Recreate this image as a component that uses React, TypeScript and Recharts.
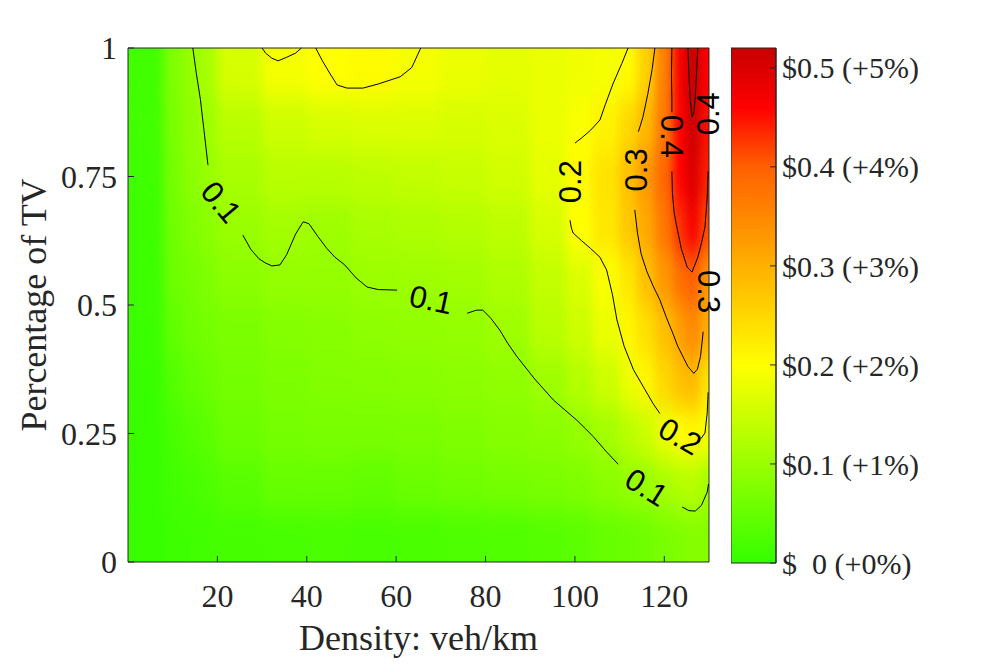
import { ComposedChart, BarChart, Bar, Cell, Scatter, XAxis, YAxis } from "recharts"

// density bins (veh/km) of the heat map, left edge to right edge
const densityEdges = [0, 8, 12, 16, 20, 30, 40, 50, 60, 70, 80, 90, 98, 104, 110, 114, 118, 122, 125, 128, 130]
// share-of-TV bins, bottom to top (value = bin centre)
const tvRows = ["0.05", "0.15", "0.25", "0.35", "0.45", "0.55", "0.65", "0.75", "0.85", "0.95"]

// extra cost ($), one row per tvRows entry, one value per density bin
const heatValues = [
  [0.005, 0.01, 0.012, 0.015, 0.018, 0.02, 0.022, 0.02, 0.022, 0.025, 0.028, 0.033, 0.04, 0.05, 0.055, 0.06, 0.07, 0.075, 0.08, 0.08],
  [0.005, 0.015, 0.02, 0.025, 0.035, 0.05, 0.05, 0.045, 0.055, 0.06, 0.065, 0.07, 0.075, 0.085, 0.095, 0.1, 0.115, 0.125, 0.13, 0.11],
  [0.005, 0.02, 0.03, 0.04, 0.055, 0.065, 0.068, 0.068, 0.07, 0.075, 0.08, 0.085, 0.095, 0.11, 0.13, 0.15, 0.18, 0.2, 0.21, 0.19],
  [0.005, 0.03, 0.045, 0.055, 0.065, 0.072, 0.076, 0.078, 0.082, 0.086, 0.09, 0.105, 0.125, 0.15, 0.18, 0.21, 0.25, 0.28, 0.29, 0.23],
  [0.008, 0.045, 0.058, 0.065, 0.07, 0.078, 0.082, 0.088, 0.092, 0.095, 0.105, 0.13, 0.15, 0.18, 0.21, 0.24, 0.28, 0.32, 0.35, 0.3],
  [0.01, 0.055, 0.065, 0.075, 0.085, 0.095, 0.095, 0.102, 0.105, 0.108, 0.12, 0.14, 0.165, 0.195, 0.23, 0.28, 0.33, 0.38, 0.4, 0.33],
  [0.01, 0.06, 0.075, 0.085, 0.1, 0.11, 0.105, 0.115, 0.12, 0.125, 0.135, 0.16, 0.2, 0.23, 0.27, 0.31, 0.37, 0.43, 0.47, 0.41],
  [0.012, 0.065, 0.085, 0.098, 0.115, 0.13, 0.13, 0.135, 0.14, 0.145, 0.155, 0.175, 0.205, 0.235, 0.28, 0.33, 0.39, 0.46, 0.5, 0.44],
  [0.015, 0.07, 0.09, 0.105, 0.13, 0.15, 0.16, 0.165, 0.165, 0.16, 0.165, 0.18, 0.195, 0.215, 0.25, 0.29, 0.37, 0.46, 0.52, 0.45],
  [0.015, 0.075, 0.095, 0.115, 0.16, 0.19, 0.2, 0.205, 0.19, 0.18, 0.175, 0.18, 0.185, 0.19, 0.205, 0.26, 0.36, 0.47, 0.54, 0.46],
]

const densityTicks = [20, 40, 60, 80, 100, 120]
const tvTicks = [0, 0.25, 0.5, 0.75, 1]
const costTicks = [0, 0.1, 0.2, 0.3, 0.4, 0.5]
const colorbarData = [{ k: "cost", top: 0.52 }]

// contour lines, as (density, share of TV) points
const c01a = [{ d: 14.5, p: 1 }, { d: 15.3, p: 0.95 }, { d: 16.2, p: 0.9 }, { d: 17.0, p: 0.84 }, { d: 17.9, p: 0.772 }]
const c01b = [
  { d: 25.7, p: 0.636 }, { d: 27.5, p: 0.608 }, { d: 29.3, p: 0.59 }, { d: 30.7, p: 0.582 }, { d: 32.2, p: 0.576 },
  { d: 34.0, p: 0.578 }, { d: 35.5, p: 0.598 }, { d: 37.5, p: 0.638 }, { d: 39.2, p: 0.662 }, { d: 40.5, p: 0.658 },
  { d: 42.5, p: 0.633 }, { d: 44.5, p: 0.61 }, { d: 46.3, p: 0.593 }, { d: 48.5, p: 0.578 }, { d: 51, p: 0.553 },
  { d: 53.5, p: 0.535 }, { d: 56, p: 0.53 }, { d: 60.2, p: 0.529 },
]
const c01c = [
  { d: 75.9, p: 0.484 }, { d: 78, p: 0.49 }, { d: 79.4, p: 0.49 }, { d: 81.2, p: 0.474 }, { d: 83.2, p: 0.451 },
  { d: 85, p: 0.425 }, { d: 87, p: 0.4 }, { d: 91, p: 0.356 }, { d: 95.2, p: 0.315 }, { d: 98, p: 0.294 },
  { d: 100.4, p: 0.276 }, { d: 102.4, p: 0.259 }, { d: 104.1, p: 0.244 }, { d: 107, p: 0.215 }, { d: 109.7, p: 0.19 },
]
const c01d = [{ d: 124.0, p: 0.107 }, { d: 125.5, p: 0.1 }, { d: 126.9, p: 0.099 }, { d: 128.3, p: 0.11 }, { d: 129.6, p: 0.136 }, { d: 129.9, p: 0.152 }]
const c02small = [{ d: 30.0, p: 1 }, { d: 30.8, p: 0.99 }, { d: 32.2, p: 0.98 }, { d: 33.6, p: 0.975 }, { d: 35.5, p: 0.982 }, { d: 37.5, p: 0.99 }, { d: 38.8, p: 1 }]
const c02top = [
  { d: 42.0, p: 1 }, { d: 43.5, p: 0.975 }, { d: 45.2, p: 0.95 }, { d: 46.8, p: 0.928 }, { d: 49, p: 0.922 },
  { d: 52.6, p: 0.922 }, { d: 56, p: 0.93 }, { d: 60.9, p: 0.944 }, { d: 63.5, p: 0.962 }, { d: 65.5, p: 1 },
]
const c02a = [
  { d: 111.9, p: 1 }, { d: 110.5, p: 0.97 }, { d: 108.5, p: 0.93 }, { d: 106.8, p: 0.89 }, { d: 105.6, p: 0.86 },
  { d: 103.5, p: 0.84 }, { d: 101.5, p: 0.825 }, { d: 100, p: 0.815 },
]
const c02b = [
  { d: 98.9, p: 0.665 }, { d: 99.2, p: 0.65 }, { d: 99.6, p: 0.64 }, { d: 101.5, p: 0.625 }, { d: 103.5, p: 0.61 },
  { d: 105.6, p: 0.593 }, { d: 107.1, p: 0.568 }, { d: 108.4, p: 0.52 }, { d: 109.4, p: 0.471 }, { d: 111, p: 0.42 },
  { d: 113.1, p: 0.374 }, { d: 115.5, p: 0.338 }, { d: 117.5, p: 0.308 }, { d: 119, p: 0.289 },
]
const c02c = [{ d: 128.2, p: 0.24 }, { d: 129.1, p: 0.251 }, { d: 129.6, p: 0.29 }, { d: 129.8, p: 0.33 }]
const c03a = [{ d: 117.9, p: 1 }, { d: 117.3, p: 0.96 }, { d: 116.3, p: 0.91 }, { d: 115.2, p: 0.865 }, { d: 114.2, p: 0.837 }]
const c03b = [
  { d: 113.4, p: 0.685 }, { d: 114, p: 0.64 }, { d: 114.8, p: 0.6 }, { d: 116.1, p: 0.565 }, { d: 117.5, p: 0.537 },
  { d: 119, p: 0.51 }, { d: 120.5, p: 0.475 }, { d: 122, p: 0.443 }, { d: 123, p: 0.42 }, { d: 124.2, p: 0.399 },
  { d: 125.3, p: 0.38 }, { d: 126.6, p: 0.367 }, { d: 127.4, p: 0.375 }, { d: 128.1, p: 0.4 }, { d: 128.7, p: 0.448 },
]
const c04a = [{ d: 121.7, p: 1 }, { d: 121.6, p: 0.95 }, { d: 121.7, p: 0.9 }, { d: 121.7, p: 0.875 }]
const c04b = [
  { d: 121.7, p: 0.76 }, { d: 121.8, p: 0.72 }, { d: 122.2, p: 0.68 }, { d: 122.8, p: 0.652 }, { d: 123.8, p: 0.61 },
  { d: 125.1, p: 0.574 }, { d: 126.2, p: 0.564 }, { d: 127.5, p: 0.593 }, { d: 128.3, p: 0.62 }, { d: 129.1, p: 0.652 },
  { d: 129.6, p: 0.71 }, { d: 129.8, p: 0.76 },
]
const c05 = [
  { d: 125.3, p: 1 }, { d: 125.5, p: 0.95 }, { d: 125.8, p: 0.9 }, { d: 126.2, p: 0.866 }, { d: 126.6, p: 0.875 },
  { d: 126.9, p: 0.9 }, { d: 127.2, p: 0.95 }, { d: 127.5, p: 1 },
]
const contourLines = [c01a, c01b, c01c, c01d, c02small, c02top, c02a, c02b, c02c, c03a, c03b, c04a, c04b, c05]

const contourLabels = [
  { text: "0.1", d: 20.8, p: 0.7, angle: 50 },
  { text: "0.1", d: 67.8, p: 0.51, angle: 12 },
  { text: "0.1", d: 116.0, p: 0.145, angle: 32 },
  { text: "0.2", d: 99.0, p: 0.74, angle: -90 },
  { text: "0.2", d: 123.5, p: 0.244, angle: 30 },
  { text: "0.3", d: 113.8, p: 0.763, angle: -90 },
  { text: "0.3", d: 129.8, p: 0.526, angle: 90 },
  { text: "0.4", d: 121.6, p: 0.828, angle: 90 },
  { text: "0.4", d: 129.8, p: 0.872, angle: -90 },
]

const W = 983
const H = 668
const AXIS = "#262626"
const SERIF = "'Liberation Serif', 'Times New Roman', serif"
const SANS = "'Liberation Sans', Arial, sans-serif"
const MARGIN = { top: 48, right: 274, bottom: 106, left: 128 }

// green -> yellow -> red colormap
const colorStops: [number, number[]][] = [
  [0, [51, 255, 0]],
  [0.2, [255, 255, 0]],
  [0.3, [255, 176, 0]],
  [0.4, [255, 96, 0]],
  [0.46, [255, 0, 0]],
  [0.52, [200, 0, 0]],
]

function heatColor(v: number) {
  for (let i = 1; i < colorStops.length; i++) {
    const [v0, c0] = colorStops[i - 1]
    const [v1, c1] = colorStops[i]
    if (v <= v1 || i === colorStops.length - 1) {
      const t = Math.max(0, Math.min(1, (v - v0) / (v1 - v0)))
      return `rgb(${c0.map((c, k) => Math.round(c + (c1[k] - c) * t)).join(",")})`
    }
  }
  return "#fff"
}

const columnKeys = densityEdges.slice(1).map((_, j) => `c${j}`)
// top row first: the category axis of a vertical layout runs top to bottom
const rowOrder = tvRows.map((_, i) => i).reverse()
const heatTable = rowOrder.map((i) => {
  const o: Record<string, number | string> = { row: tvRows[i] }
  columnKeys.forEach((key, j) => {
    o[key] = densityEdges[j + 1] - densityEdges[j]
  })
  return o
})

const tickStyle = { fill: AXIS, fontSize: 32, fontFamily: SERIF }
const barTickStyle = { fill: AXIS, fontSize: 30, fontFamily: SERIF }

const noDot = () => <g />

function ContourText(props: any) {
  const { cx, cy, payload } = props
  return (
    <text
      x={cx}
      y={cy}
      transform={`rotate(${payload.angle} ${cx} ${cy})`}
      textAnchor="middle"
      dominantBaseline="central"
      fontSize={31}
      fontFamily={SANS}
      fill="#000"
    >
      {payload.text}
    </text>
  )
}

function xTitle(props: any) {
  const { x, y, width } = props.viewBox
  return (
    <text x={x + width / 2} y={y + 88} textAnchor="middle" fill={AXIS} fontSize={36} fontFamily={SERIF}>
      Density: veh/km
    </text>
  )
}

function yTitle(props: any) {
  const { x, y, height } = props.viewBox
  const cx = x + 46
  const cy = y + height / 2
  return (
    <text x={cx} y={cy} transform={`rotate(-90 ${cx} ${cy})`} textAnchor="middle" fill={AXIS} fontSize={36} fontFamily={SERIF}>
      Percentage of TV
    </text>
  )
}

function costLabel(v: number) {
  if (v === 0) return "$\u00a0\u00a00 (+0%)"
  return `$${v.toFixed(1)} (+${Math.round(v * 10)}%)`
}

export default function App() {
  return (
    <div style={{ position: "relative", width: W, height: H, background: "#fff", overflow: "hidden" }}>
      <style>{"body{margin:0}"}</style>
      <svg width={0} height={0} style={{ position: "absolute" }}>
        <defs>
          <filter id="heatSmooth" x="0" y="0" width="1" height="1" colorInterpolationFilters="sRGB">
            <feGaussianBlur stdDeviation="5 14" />
            <feComponentTransfer>
              <feFuncA type="linear" slope="0" intercept="1" />
            </feComponentTransfer>
          </filter>
          <linearGradient id="cbGrad" x1="0" y1="1" x2="0" y2="0">
            {colorStops.map(([v, c]) => (
              <stop key={v} offset={v / 0.52} stopColor={`rgb(${c.join(",")})`} />
            ))}
          </linearGradient>
        </defs>
      </svg>

      {/* heat map, smoothed and clipped to the plot area */}
      <div
        style={{
          position: "absolute",
          left: 0,
          top: 0,
          filter: "url(#heatSmooth)",
          clipPath: `inset(${MARGIN.top}px ${MARGIN.right}px ${MARGIN.bottom}px ${MARGIN.left}px)`,
        }}
      >
        <ComposedChart width={W} height={H} data={heatTable} layout="vertical" margin={MARGIN} barCategoryGap={0} barGap={0}>
          <XAxis type="number" domain={[0, 130]} hide />
          <YAxis type="category" dataKey="row" hide />
          {columnKeys.map((key, j) => (
            <Bar key={key} dataKey={key} stackId="heat" isAnimationActive={false}>
              {rowOrder.map((i) => (
                <Cell key={i} fill={heatColor(heatValues[i][j])} />
              ))}
            </Bar>
          ))}
        </ComposedChart>
      </div>

      {/* axes, contour lines and labels */}
      <div style={{ position: "absolute", left: 0, top: 0 }}>
        <ComposedChart width={W} height={H} margin={{ top: 47, right: 273, bottom: 0, left: 0 }}>
          <XAxis
            type="number"
            dataKey="d"
            domain={[0, 130]}
            ticks={densityTicks}
            height={106}
            tickSize={-6}
            tickMargin={28}
            axisLine={{ stroke: AXIS }}
            tickLine={{ stroke: AXIS }}
            tick={tickStyle}
            label={xTitle}
          />
          <XAxis xAxisId="top" orientation="top" type="number" domain={[0, 130]} ticks={densityTicks} height={1} tickSize={-6} tick={false} axisLine={{ stroke: AXIS }} tickLine={{ stroke: AXIS }} />
          <YAxis
            type="number"
            dataKey="p"
            domain={[0, 1]}
            ticks={tvTicks}
            width={128}
            tickSize={-6}
            tickMargin={17}
            axisLine={{ stroke: AXIS }}
            tickLine={{ stroke: AXIS }}
            tick={tickStyle}
            label={yTitle}
          />
          <YAxis yAxisId="right" orientation="right" type="number" domain={[0, 1]} ticks={tvTicks} width={1} tickSize={-6} tick={false} axisLine={{ stroke: AXIS }} tickLine={{ stroke: AXIS }} />
          {contourLines.map((pts, i) => (
            <Scatter key={i} data={pts} fill="#000" line={{ stroke: "#000", strokeWidth: 1 }} shape={noDot} isAnimationActive={false} />
          ))}
          <Scatter data={contourLabels} fill="#000" shape={ContourText} isAnimationActive={false} />
        </ComposedChart>
      </div>

      {/* colour bar */}
      <div style={{ position: "absolute", left: 731, top: 0 }}>
        <BarChart width={252} height={H} data={colorbarData} margin={{ top: 48, right: 0, bottom: 105, left: 0 }} barCategoryGap={0}>
          <XAxis dataKey="k" hide />
          <YAxis
            orientation="right"
            type="number"
            domain={[0, 0.52]}
            ticks={costTicks}
            width={207}
            tickSize={-6}
            tickMargin={12}
            axisLine={{ stroke: AXIS }}
            tickLine={{ stroke: AXIS }}
            tick={barTickStyle}
            tickFormatter={costLabel}
          />
          <Bar dataKey="top" fill="url(#cbGrad)" stroke={AXIS} strokeWidth={1} isAnimationActive={false} />
        </BarChart>
      </div>
    </div>
  )
}
